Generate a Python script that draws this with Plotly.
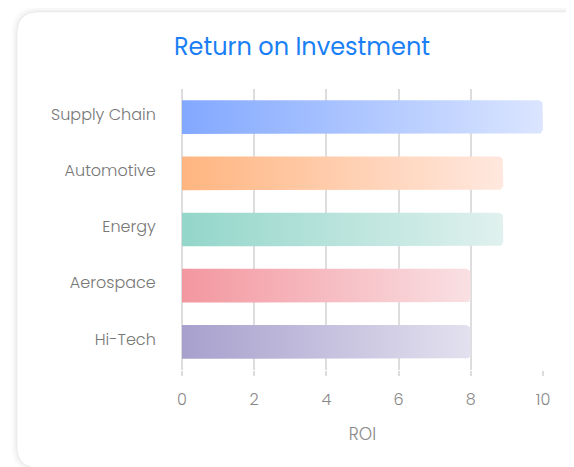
import numpy as np
import plotly.graph_objects as go

categories = ["Supply Chain", "Automotive", "Energy", "Aerospace", "Hi-Tech"]
roi_values = [10, 8.9, 8.9, 8, 8]
color_start = ["#82a8ff", "#ffb580", "#93d6ca", "#f3979f", "#a7a0cd"]
color_end = ["#dbe5ff", "#ffe8df", "#e0f1ee", "#f9e0e3", "#e3e1ef"]
x_ticks = [0, 2, 4, 6, 8, 10]

# page body has an 8px margin, so figure coordinates = screen - 8
W, H = 566, 459
L, R, T, B = 174, 31, 81, 97
PW, PH = W - L - R, H - T - B

FONT = "Poppins, Open Sans, sans-serif"

fig = go.Figure()

n = len(categories)
bar_half = 0.3
x_max = 10
rx = 5 / PW * x_max
ry = 5 / PH * n
theta = np.linspace(0, np.pi / 2, 8)

for i, (cat, v) in enumerate(zip(categories, roi_values)):
    yc = n - 1 - i
    y0, y1 = yc - bar_half, yc + bar_half
    xs = [0, v - rx]
    ys = [y0, y0]
    xs += list(v - rx + rx * np.sin(theta))
    ys += list(y0 + ry - ry * np.cos(theta))
    xs += list(v - rx + rx * np.cos(theta))
    ys += list(y1 - ry + ry * np.sin(theta))
    xs += [0, 0]
    ys += [y1, y0]
    fig.add_trace(go.Scatter(
        x=xs, y=ys, mode="lines", fill="toself",
        line=dict(width=0, color="rgba(0,0,0,0)"),
        fillgradient=dict(type="horizontal",
                          colorscale=[[0, color_start[i]], [1, color_end[i]]]),
        hoverinfo="skip", showlegend=False, name=cat,
    ))


def px_to_paper(px, py):
    return (px - L) / PW, (H - B - py) / PH


def rounded_path(x0, y0, x1, y1, r):
    def P(px, py):
        a, b = px_to_paper(px, py)
        return f"{a:.5f},{b:.5f}"
    path = f"M {P(x0 + r, y0)} L {P(x1 - r, y0)} "
    path += f"Q {P(x1, y0)} {P(x1, y0 + r)} "
    path += f"L {P(x1, y1 - r)} Q {P(x1, y1)} {P(x1 - r, y1)} "
    path += f"L {P(x0 + r, y1)} Q {P(x0, y1)} {P(x0, y1 - r)} "
    path += f"L {P(x0, y0 + r)} Q {P(x0, y0)} {P(x0 + r, y0)} Z"
    return path


CX0, CY0, CX1, CY1 = 9, 4, 590, 460
shapes = []
for k, a in [(6, 0.012), (4, 0.018), (2, 0.025)]:
    shapes.append(dict(type="path", xref="paper", yref="paper",
                       path=rounded_path(CX0 - k, CY0 - k, CX1 + k, CY1 + k, 22 + k),
                       line=dict(width=0), fillcolor=f"rgba(0,0,0,{a})", layer="below"))
shapes.append(dict(type="path", xref="paper", yref="paper",
                   path=rounded_path(CX0, CY0, CX1, CY1, 22),
                   line=dict(width=1, color="rgba(0,0,0,0.05)"),
                   fillcolor="#ffffff", layer="below"))

fig.update_layout(
    width=W, height=H,
    margin=dict(l=L, r=R, t=T, b=B),
    paper_bgcolor="#ffffff",
    plot_bgcolor="rgba(0,0,0,0)",
    font=dict(family=FONT, color="#777777", size=16),
    title=dict(text="Return on Investment", x=294 / W, xref="container",
               xanchor="center", y=1 - 39 / H, yanchor="middle",
               font=dict(family=FONT, size=24, color="#1a7ff5")),
    shapes=shapes,
    showlegend=False,
)

fig.update_xaxes(
    range=[0, x_max], tickvals=x_ticks, ticktext=[str(t) for t in x_ticks],
    showgrid=True, gridcolor="#dddddd", gridwidth=1.5,
    zeroline=True, zerolinecolor="#dddddd", zerolinewidth=1.5,
    ticks="outside", ticklen=5, tickcolor="#dddddd", tickwidth=1.5,
    tickfont=dict(size=16, color="#888888", weight=300),
    ticklabelstandoff=10,
    title=dict(text="ROI", font=dict(size=17, color="#888888", weight=300), standoff=17),
    showline=False, fixedrange=True,
)
fig.update_yaxes(
    range=[-0.5, n - 0.5],
    tickvals=list(range(n - 1, -1, -1)), ticktext=categories,
    showgrid=False, zeroline=False, showline=False,
    ticks="outside", ticklen=22, tickcolor="rgba(0,0,0,0)",
    tickfont=dict(size=16, color="#777777", weight=300),
    ticklabelshift=-3,
    fixedrange=True,
)

fig.write_html("out.html")
